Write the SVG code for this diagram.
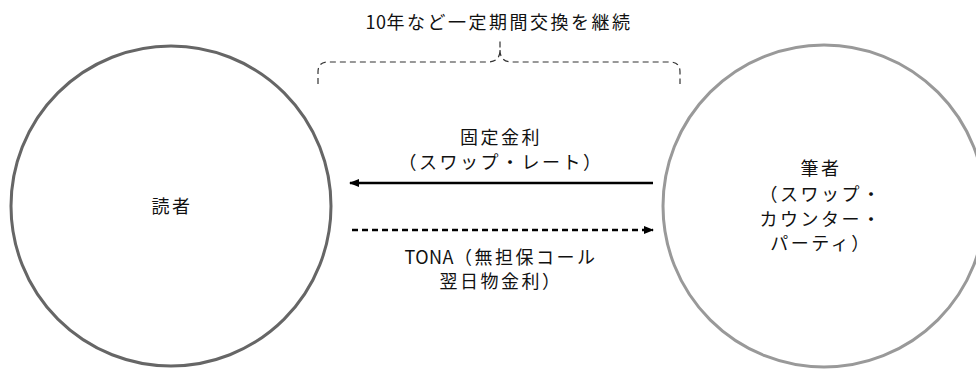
<svg xmlns="http://www.w3.org/2000/svg" width="976" height="369" viewBox="0 0 976 369">
<style>
.t{font-family:"Noto Sans CJK JP","Noto Sans",sans-serif;font-size:18px;fill:#111;letter-spacing:2.5px;text-anchor:middle}
.n{letter-spacing:0.5px}
.brace{fill:none;stroke:#333;stroke-width:1.2;stroke-dasharray:6 4}
</style>
<defs>
<marker id="ah" viewBox="0 0 10 10" refX="9" refY="5" markerWidth="10" markerHeight="10" markerUnits="userSpaceOnUse" orient="auto">
<path d="M0,1 L10,5 L0,9 Z" fill="#000"/>
</marker>
</defs>
<rect width="976" height="369" fill="#fff"/>
<g id="reader">
<circle cx="171" cy="206" r="160" fill="#fff" stroke="#666" stroke-width="3"/>
<text class="t" x="172" y="213">読者</text>
</g>
<g id="author">
<circle cx="824" cy="206" r="161" fill="#fff" stroke="#999" stroke-width="3"/>
<text class="t" x="821" y="175">筆者</text>
<text class="t" x="821" y="201">（スワップ・</text>
<text class="t" x="821" y="226">カウンター・</text>
<text class="t" x="821" y="250">パーティ）</text>
</g>
<g id="period">
<path class="brace" d="M318,84 V72 Q318,62 328,62 H488 Q500,62 500,50 V38 M500,50 Q500,62 512,62 H670 Q680,62 680,72 V84"/>
<text class="t" x="499" y="29"><tspan class="n">10</tspan>年など一定期間交換を継続</text>
</g>
<g id="connectors">
<line x1="653" y1="183" x2="350" y2="183" stroke="#000" stroke-width="2.5" marker-end="url(#ah)"/>
<line x1="352" y1="230" x2="653" y2="230" stroke="#000" stroke-width="2.5" stroke-dasharray="6 4" marker-end="url(#ah)"/>
<text class="t" x="501" y="144">固定金利</text>
<text class="t" x="501" y="169">（スワップ・レート）</text>
<text class="t" x="501" y="264"><tspan class="n">TONA</tspan>（無担保コール</text>
<text class="t" x="501" y="288">翌日物金利）</text>
</g>
</svg>
